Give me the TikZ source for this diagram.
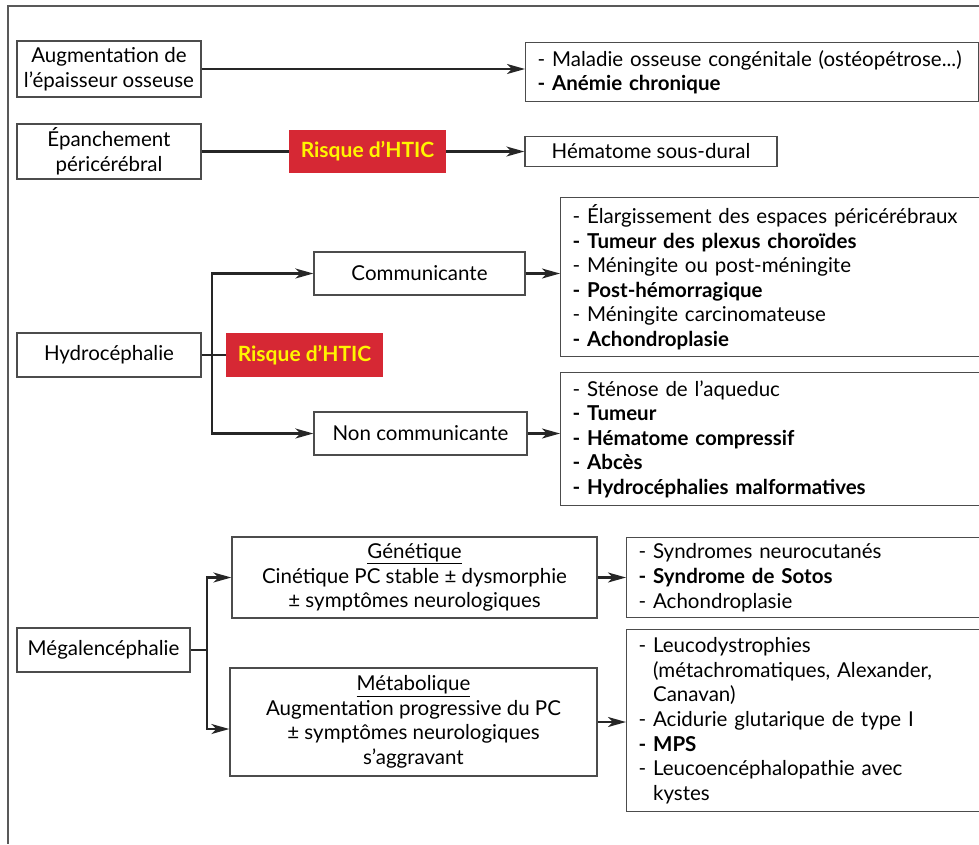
\documentclass[tikz,border=0pt]{standalone}
\usepackage{fontspec}
\setmainfont{Lato}
\usetikzlibrary{arrows.meta}
\definecolor{hticred}{RGB}{214,40,52}
\definecolor{hticyellow}{RGB}{255,245,0}
\newcommand{\cont}{\phantom{- }}
\begin{document}
\begin{tikzpicture}[x=1pt,y=-1pt,
  txt/.style={font=\fontsize{20.5}{24.6}\selectfont},
  box/.style={txt,draw=black!70,line width=1.3pt,inner sep=0pt,align=center},
  listbox/.style={txt,draw=black!70,line width=1.3pt,anchor=north west,inner xsep=12pt,inner ysep=0pt,align=left},
  risk/.style={fill=hticred,text=hticyellow,inner sep=0pt,font=\fontsize{21}{22}\selectfont\bfseries},
  link/.style={line width=2.2pt,black!85},
  arr/.style={link,-{Stealth[length=18pt,width=10pt,inset=5pt]}}]
  \useasboundingbox (0,0) rectangle (979,844);
  % outer frame
  \draw[black!65,line width=1.3pt] (979,6) -- (8,6) -- (8,844);

  % row 1
  \node[box,minimum width=184,minimum height=56] (augm) at (109,69) {Augmentation de\\l’épaisseur osseuse};
  \node[listbox,text width=429,minimum height=59] (osse) at (525,42) {- Maladie osseuse congénitale (ostéopétrose...)\\\textbf{- Anémie chronique}};
  \draw[arr] (augm.east) -- (augm.east -| osse.west);

  % row 2
  \node[box,minimum width=184,minimum height=55] (epan) at (109,151.5) {Épanchement\\péricérébral};
  \node[risk,minimum width=157,minimum height=43] (htic1) at (367.5,151.5) {Risque d’HTIC};
  \node[box,minimum width=252,minimum height=30] (hemat) at (651,151.5) {Hématome sous-dural};
  \draw[link] (epan.east) -- (htic1.west);
  \draw[arr] (htic1.east) -- (hemat.west);

  % hydrocephalie
  \node[box,minimum width=184,minimum height=44] (hydro) at (109,355) {Hydrocéphalie};
  \node[risk,minimum width=157,minimum height=44] (htic2) at (304.5,355) {Risque d’HTIC};
  \coordinate (hbr) at (212,355);
  \node[box,minimum width=211,minimum height=43] (comm) at (419.5,273.5) {Communicante};
  \node[box,minimum width=213,minimum height=43] (ncomm) at (420.5,433.5) {Non communicante};
  \node[listbox,text width=395,minimum height=159] (lcomm) at (560,197) {- Élargissement des espaces péricérébraux\\\textbf{- Tumeur des plexus choroïdes}\\- Méningite ou post-méningite\\\textbf{- Post-hémorragique}\\- Méningite carcinomateuse\\\textbf{- Achondroplasie}};
  \node[listbox,text width=395,minimum height=133] (lncomm) at (560,372) {- Sténose de l’aqueduc\\\textbf{- Tumeur}\\\textbf{- Hématome compressif}\\\textbf{- Abcès}\\\textbf{- Hydrocéphalies malformatives}};
  \draw[link] (hydro.east) -- (htic2.west);
  \draw[arr] (hbr) |- (comm.west);
  \draw[arr] (hbr) |- (ncomm.west);
  \draw[arr] (comm.east) -- (comm.east -| lcomm.west);
  \draw[arr] (ncomm.east) -- (ncomm.east -| lncomm.west);

  % megalencephalie
  \node[box,minimum width=173,minimum height=44] (megal) at (103.5,650) {Mégalencéphalie};
  \coordinate (mbr) at (207,650);
  \node[box,minimum width=365,minimum height=81] (gene) at (414.5,577.5) {\underline{Génétique}\\Cinétique PC stable ± dysmorphie\\± symptômes neurologiques};
  \node[box,minimum width=367,minimum height=108] (meta) at (413.5,722) {\underline{Métabolique}\\Augmentation progressive du PC\\± symptômes neurologiques\\s’aggravant};
  \node[listbox,text width=329,minimum height=80] (lgene) at (626,537) {- Syndromes neurocutanés\\\textbf{- Syndrome de Sotos}\\- Achondroplasie};
  \node[listbox,text width=329,minimum height=182] (lmeta) at (626,629) {- Leucodystrophies\\\cont(métachromatiques, Alexander,\\\cont Canavan)\\- Acidurie glutarique de type I\\\textbf{- MPS}\\- Leucoencéphalopathie avec\\\cont kystes};
  \draw[link] (megal.east) -- (mbr);
  \draw[arr] (mbr) |- (gene.west);
  \draw[arr] (mbr) |- ([yshift=-7pt]meta.west);
  \draw[arr] (gene.east) -- (gene.east -| lgene.west);
  \draw[arr] (meta.east) -- (meta.east -| lmeta.west);
\end{tikzpicture}
\end{document}
